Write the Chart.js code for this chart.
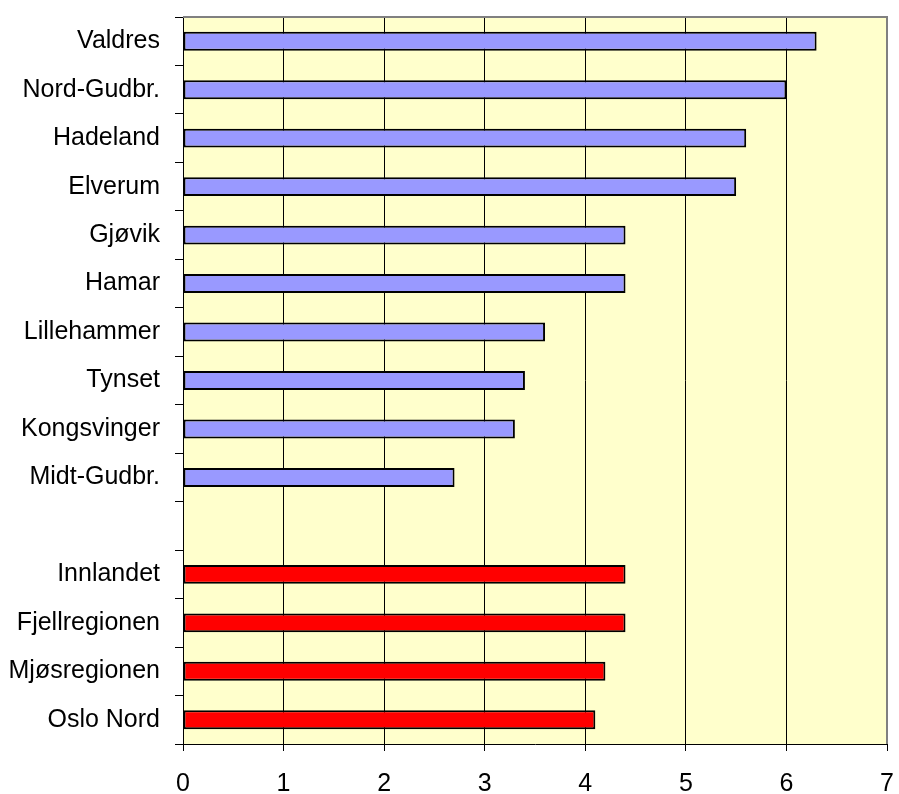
<!DOCTYPE html>
<html>
<head>
<meta charset="utf-8">
<script src="https://cdn.jsdelivr.net/npm/chart.js@4/dist/chart.umd.min.js"></script>
<style>
  body { margin: 0; background: #fff; }
  canvas { display: block; }
</style>
</head>
<body>
<canvas id="chart" width="899" height="794"></canvas>
<script>
// Categories top to bottom (blank row separates the two groups)
const categories = ['Valdres', 'Nord-Gudbr.', 'Hadeland', 'Elverum', 'Gjøvik', 'Hamar',
    'Lillehammer', 'Tynset', 'Kongsvinger', 'Midt-Gudbr.', '',
    'Innlandet', 'Fjellregionen', 'Mjøsregionen', 'Oslo Nord'];

// Regions (blue bars)
const regionValues = [6.3, 6.0, 5.6, 5.5, 4.4, 4.4, 3.6, 3.4, 3.3, 2.7,
    null, null, null, null, null];

// Aggregates (red bars)
const aggregateValues = [null, null, null, null, null, null, null, null, null, null,
    null, 4.4, 4.4, 4.2, 4.1];

const xTicks = { min: 0, max: 7, step: 1 };

const FONT = { family: "'Liberation Sans', Arial, sans-serif", size: 25 };

// Plot area background and the grey top/right frame
const plotFrame = {
    id: 'plotFrame',
    beforeDraw(chart) {
        const { ctx, chartArea: a } = chart;
        ctx.save();
        ctx.fillStyle = '#FFFFCC';
        ctx.fillRect(a.left, a.top, a.right - a.left, a.bottom - a.top);
        ctx.restore();
    },
    afterDraw(chart) {
        const { ctx, chartArea: a } = chart;
        ctx.save();
        ctx.strokeStyle = '#808080';
        ctx.lineWidth = 2;
        ctx.beginPath();
        ctx.moveTo(a.left, a.top);
        ctx.lineTo(a.right, a.top);
        ctx.lineTo(a.right, a.bottom);
        ctx.stroke();
        ctx.restore();
    }
};

new Chart(document.getElementById('chart'), {
    type: 'bar',
    data: {
        labels: categories,
        datasets: [{
            label: 'Regioner',
            data: regionValues,
            backgroundColor: '#9999FF',
            borderColor: '#000000',
            borderWidth: 2,
            borderSkipped: false,
            barPercentage: 0.39,
            categoryPercentage: 1,
            grouped: false
        }, {
            label: 'Samlet',
            data: aggregateValues,
            backgroundColor: '#FF0000',
            borderColor: '#000000',
            borderWidth: 2,
            borderSkipped: false,
            barPercentage: 0.39,
            categoryPercentage: 1,
            grouped: false
        }]
    },
    options: {
        indexAxis: 'y',
        responsive: false,
        animation: false,
        layout: {
            padding: { top: 17, right: 12, left: 0, bottom: 0 }
        },
        plugins: {
            legend: { display: false },
            tooltip: { enabled: false }
        },
        scales: {
            x: {
                min: xTicks.min,
                max: xTicks.max,
                ticks: {
                    stepSize: xTicks.step,
                    color: '#000',
                    font: FONT,
                    padding: 18,
                    maxRotation: 0
                },
                grid: {
                    color: '#000',
                    lineWidth: 1,
                    tickLength: 7
                },
                border: { display: true, color: '#000', width: 1 },
                afterFit(scale) {
                    scale.height = 50;
                    scale.paddingLeft = 0;
                    scale.paddingRight = 0;
                }
            },
            y: {
                ticks: {
                    color: '#000',
                    font: FONT,
                    padding: 15,
                    autoSkip: false
                },
                grid: {
                    offset: true,
                    drawOnChartArea: false,
                    color: '#000',
                    tickLength: 8
                },
                border: { display: true, color: '#000', width: 1 },
                afterFit(scale) {
                    scale.width = 183;
                    scale.paddingTop = 0;
                    scale.paddingBottom = 0;
                }
            }
        }
    },
    plugins: [plotFrame]
});
</script>
</body>
</html>
